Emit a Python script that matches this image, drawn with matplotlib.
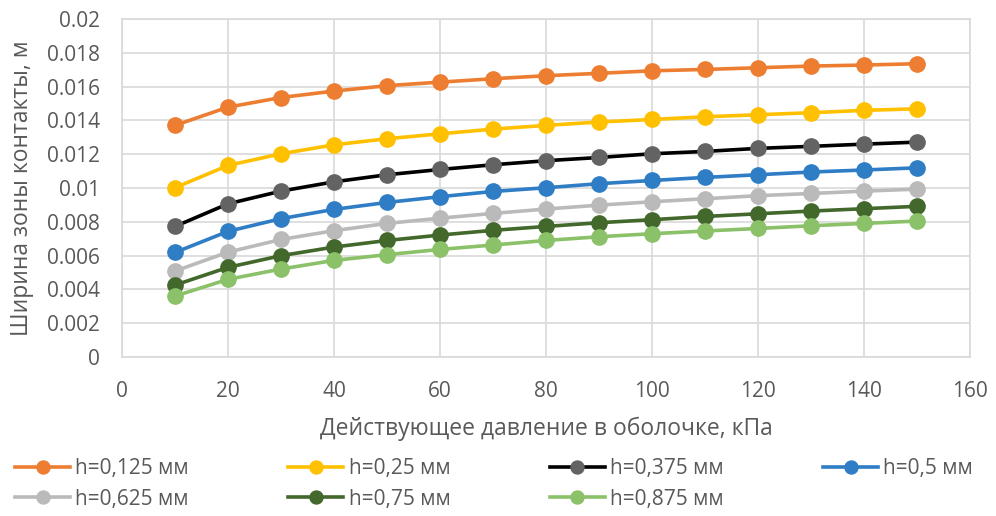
import matplotlib
matplotlib.use("Agg")
import matplotlib.pyplot as plt
from matplotlib.ticker import FuncFormatter

pressure = [10, 20, 30, 40, 50, 60, 70, 80, 90, 100, 110, 120, 130, 140, 150]

w_0125 = [0.01371, 0.01479, 0.01536, 0.01574, 0.01606, 0.01627, 0.01647, 0.01665,
          0.01679, 0.01694, 0.01702, 0.01712, 0.01722, 0.01728, 0.01736]
w_025 = [0.01002, 0.01134, 0.01203, 0.01256, 0.01292, 0.01321, 0.01349, 0.01371,
         0.01391, 0.01406, 0.01422, 0.01434, 0.01446, 0.01460, 0.01469]
w_0375 = [0.00773, 0.00907, 0.00982, 0.01037, 0.01079, 0.01110, 0.01138, 0.01162,
          0.01181, 0.01203, 0.01217, 0.01235, 0.01247, 0.01260, 0.01272]
w_05 = [0.00619, 0.00744, 0.00819, 0.00874, 0.00915, 0.00949, 0.00980, 0.01002,
        0.01026, 0.01045, 0.01063, 0.01079, 0.01095, 0.01107, 0.01120]
w_0625 = [0.00509, 0.00621, 0.00696, 0.00748, 0.00791, 0.00822, 0.00850, 0.00876,
          0.00899, 0.00919, 0.00937, 0.00955, 0.00968, 0.00982, 0.00994]
w_075 = [0.00426, 0.00531, 0.00600, 0.00651, 0.00690, 0.00722, 0.00750, 0.00773,
         0.00795, 0.00813, 0.00832, 0.00848, 0.00864, 0.00878, 0.00892]
w_0875 = [0.00361, 0.00460, 0.00521, 0.00572, 0.00606, 0.00637, 0.00663, 0.00690,
          0.00712, 0.00730, 0.00746, 0.00761, 0.00777, 0.00791, 0.00805]

labels = ["h=0,125 мм", "h=0,25 мм", "h=0,375 мм", "h=0,5 мм",
          "h=0,625 мм", "h=0,75 мм", "h=0,875 мм"]
series = [w_0125, w_025, w_0375, w_05, w_0625, w_075, w_0875]
line_colors = ["#ED7D31", "#FFC000", "#000000", "#2E7DC5", "#BABABA", "#43682B", "#8BC168"]
marker_colors = ["#ED7D31", "#FFC000", "#636363", "#2E7DC5", "#BABABA", "#43682B", "#8BC168"]

plt.rcParams["font.family"] = ["Open Sans", "DejaVu Sans"]
text_color = "#595959"

fig = plt.figure(figsize=(9.96, 5.16), dpi=100)
ax = fig.add_axes([0.1225, 0.308, 0.8515, 0.655])

lines = []
for ys, lab, lc, mc in zip(series, labels, line_colors, marker_colors):
    ln, = ax.plot(pressure, ys, color=lc, lw=2.6, marker="o", markersize=11,
                  markerfacecolor=mc, markeredgecolor=mc, label=lab)
    lines.append(ln)

ax.set_xlim(0, 160)
ax.set_ylim(0, 0.02)
ax.set_xticks(range(0, 161, 20))
ax.set_yticks([i * 0.002 for i in range(11)])
ax.yaxis.set_major_formatter(FuncFormatter(lambda v, p: "0" if abs(v) < 1e-12 else f"{v:.3f}".rstrip("0")))
ax.grid(True, color="#D9D9D9", lw=1.2)
ax.set_axisbelow(True)
for s in ax.spines.values():
    s.set_color("#D9D9D9")
    s.set_linewidth(1.2)
ax.tick_params(length=0, labelsize=15, colors=text_color)
ax.tick_params(axis="x", pad=17)
ax.tick_params(axis="y", pad=16)

ax.set_xlabel("Действующее давление в оболочке, кПа", fontsize=16.5, color=text_color)
ax.set_ylabel("Ширина зоны контакты, м", fontsize=16.5, color=text_color)
ax.xaxis.set_label_coords(0.5, -0.175)
ax.yaxis.set_label_coords(-0.104, 0.5)

# excel fills legend row by row
order = [0, 4, 1, 5, 2, 6, 3]
fig.legend([lines[i] for i in order], [labels[i] for i in order],
           loc="upper left", bbox_to_anchor=(0.015, 0.0, 0.962, 0.112), ncol=4, mode="expand",
           frameon=False, fontsize=15, handlelength=2.65, handletextpad=0.25,
           labelspacing=0.45, borderaxespad=0, borderpad=0, labelcolor=text_color,
           markerscale=0.85)

fig.savefig("out.png", dpi=100)
